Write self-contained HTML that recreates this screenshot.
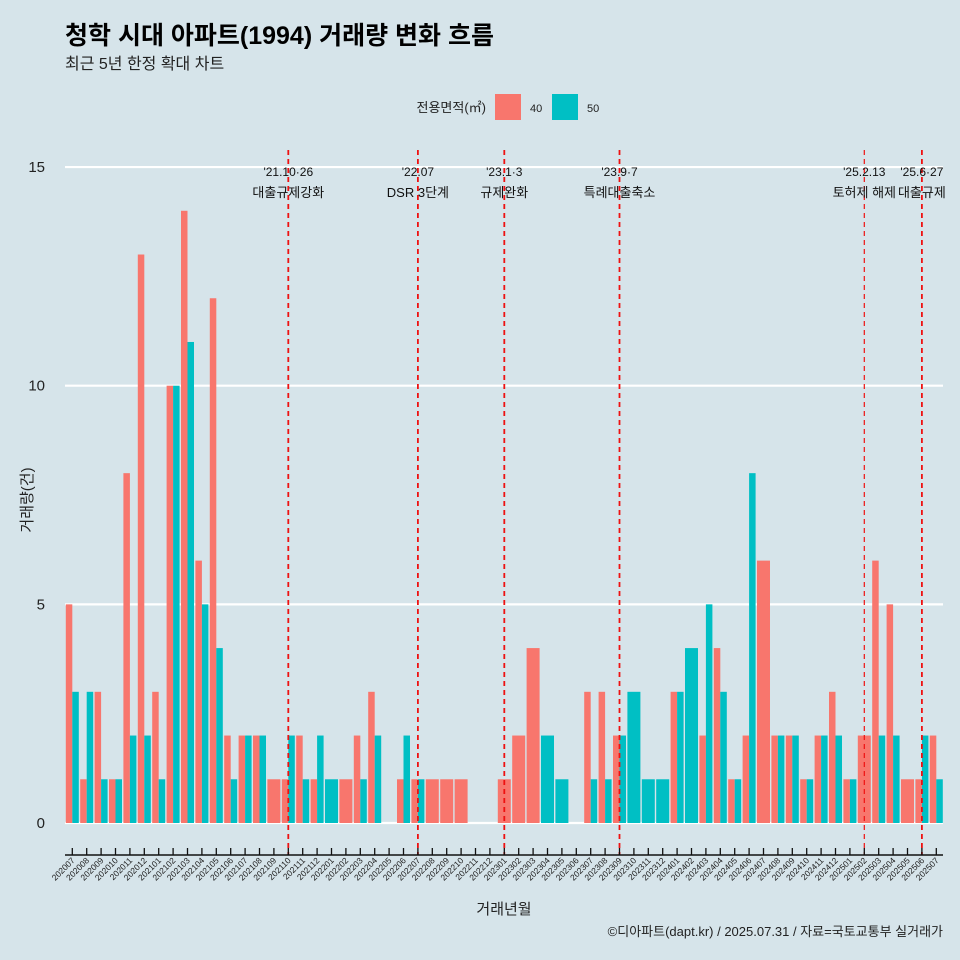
<!DOCTYPE html>
<html><head><meta charset="utf-8"><style>
html,body{margin:0;padding:0;background:#d6e4ea;}
svg{display:block;font-family:"Liberation Sans","Noto Sans CJK KR",sans-serif;}
</style></head><body>
<svg id="chart" width="960" height="960" viewBox="0 0 960 960" xmlns="http://www.w3.org/2000/svg">
<rect x="0" y="0" width="960" height="960" fill="#d6e4ea"/>
<text x="65" y="44" font-size="25" font-weight="bold" fill="#000">청학 시대 아파트(1994) 거래량 변화 흐름</text>
<text x="65" y="69" font-size="16" fill="#222">최근 5년 한정 확대 차트</text>
<g>
<text x="486" y="112" font-size="13" text-anchor="end" fill="#222">전용면적(㎡)</text>
<rect x="495" y="94" width="26" height="26" fill="#F8766D"/>
<text x="530" y="112" font-size="11" fill="#222">40</text>
<rect x="552" y="94" width="26" height="26" fill="#00BFC4"/>
<text x="587" y="112" font-size="11" fill="#222">50</text>
</g>
<g id="grid"></g>
<g id="bars"></g>
<g id="vlines"></g>
<g id="xaxis"></g>
<text transform="translate(32,500) rotate(-90)" font-size="15" text-anchor="middle" fill="#222">거래량(건)</text>
<text x="504" y="914" font-size="15" text-anchor="middle" fill="#222">거래년월</text>
<text x="943" y="936" font-size="13" text-anchor="end" fill="#222">©디아파트(dapt.kr) / 2025.07.31 / 자료=국토교통부 실거래가</text>
</svg>
<script>
const months = ["202007","202008","202009","202010","202011","202012","202101","202102","202103","202104","202105","202106","202107","202108","202109","202110","202111","202112","202201","202202","202203","202204","202205","202206","202207","202208","202209","202210","202211","202212","202301","202302","202303","202304","202305","202306","202307","202308","202309","202310","202311","202312","202401","202402","202403","202404","202405","202406","202407","202408","202409","202410","202411","202412","202501","202502","202503","202504","202505","202506","202507"];
const area40 = [5,1,3,1,8,13,3,10,14,6,12,2,2,2,1,1,2,1,0,1,2,3,0,1,1,1,1,1,0,0,1,2,4,0,0,0,3,3,2,0,0,0,3,0,2,4,1,2,6,2,2,1,2,3,1,2,6,5,1,1,2];
const area50 = [3,3,1,1,2,2,1,10,11,5,4,1,2,2,0,2,1,2,1,0,1,2,0,2,1,0,0,0,0,0,0,0,0,2,1,0,1,1,2,3,1,1,3,4,5,3,1,8,0,2,2,1,2,2,1,0,2,2,0,2,1];
const yTicks = [0,5,10,15];
const eventMonths = ["202110","202207","202301","202309","202502","202506"];
const eventLine1 = ["'21.10·26","'22.07","'23.1·3","'23.9·7","'25.2.13","'25.6·27"];
const eventLine2 = ["대출규제강화","DSR 3단계","규제완화","특례대출축소","토허제 해제","대출규제"];

const NS="http://www.w3.org/2000/svg";
const X0=72.3, STEP=14.4, Y0=823, PX=43.73;
function xs(i){return X0+STEP*i;}
function ys(v){return Y0-v*PX;}
function mk(tag,attrs,parent){const e=document.createElementNS(NS,tag);for(const k in attrs)e.setAttribute(k,attrs[k]);parent.appendChild(e);return e;}

const grid=document.getElementById('grid');
yTicks.forEach(t=>{
  const l=mk('line',{x1:65,x2:943,y1:ys(t),y2:ys(t),stroke:'#fff','stroke-width':2.2},grid);
  
  
  const tx=mk('text',{x:45,y:ys(t)+5,'font-size':15,'text-anchor':'end',fill:'#222'},grid);
  
  
  tx.textContent=t;
});

const bars=document.getElementById('bars');
const W=13;
months.forEach((m,i)=>{
  const a=area40[i], b=area50[i], c=xs(i);
  if(a>0&&b>0){
    const r1=mk('rect',{x:c-W/2,y:ys(a),width:W/2,height:a*PX,fill:'#F8766D'},bars);
    
    
    const r2=mk('rect',{x:c,y:ys(b),width:W/2,height:b*PX,fill:'#00BFC4'},bars);
    
    
  } else if(a>0){
    const r=mk('rect',{x:c-W/2,y:ys(a),width:W,height:a*PX,fill:'#F8766D'},bars);
    
    
  } else if(b>0){
    const r=mk('rect',{x:c-W/2,y:ys(b),width:W,height:b*PX,fill:'#00BFC4'},bars);
    
    
  }
});

const vl=document.getElementById('vlines');
eventMonths.forEach((m,k)=>{
  const c=xs(months.indexOf(m));
  const l=mk('line',{x1:c,x2:c,y1:150,y2:855,stroke:'#ee1111','stroke-width':(k===4?1.2:1.8),'stroke-dasharray':'5,4'},vl);
  
  
  const t1=mk('text',{x:c,y:176,'font-size':12,'text-anchor':'middle',fill:'#111'},vl);
  
  
  t1.textContent=eventLine1[k];
  const t2=mk('text',{x:c,y:197,'font-size':13,'text-anchor':'middle',fill:'#111'},vl);
  
  
  t2.textContent=eventLine2[k];
});

const xa=document.getElementById('xaxis');
const ax=mk('line',{x1:65,x2:943,y1:855,y2:855,stroke:'#111','stroke-width':1.5},xa);


months.forEach((m,i)=>{
  const c=xs(i);
  const t=mk('line',{x1:c,x2:c,y1:848,y2:855,stroke:'#111','stroke-width':1.3},xa);
  
  
  const tx=mk('text',{x:c+3,y:861,'font-size':8.5,'text-anchor':'end',fill:'#222',transform:'rotate(-45 '+(c+3)+' 861)'},xa);
  
  
  tx.textContent=m;
});
</script>
</body></html>
